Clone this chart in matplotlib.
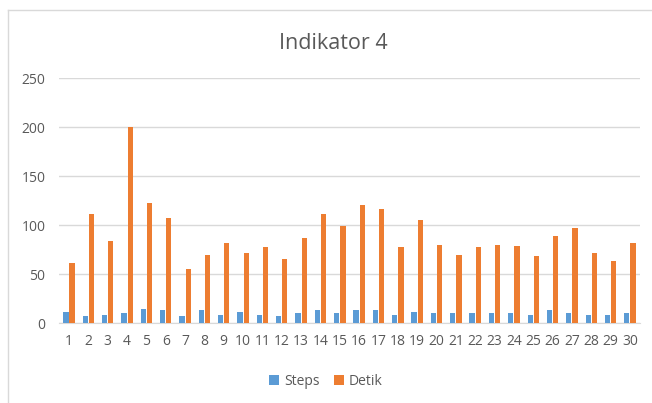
import numpy as np
import matplotlib.pyplot as plt
from matplotlib.lines import Line2D

plt.rcParams['font.family'] = ['Open Sans', 'DejaVu Sans']

categories = [str(i) for i in range(1, 31)]
steps = [11, 7, 8, 10, 14, 13, 7, 13, 8, 11, 8, 7, 10, 13, 10,
         13, 13, 8, 11, 10, 10, 10, 10, 10, 8, 13, 10, 8, 8, 10]
detik = [61, 111, 84, 200, 123, 107, 55, 69, 82, 71, 78, 65, 87, 111, 99,
         120, 116, 78, 105, 80, 69, 78, 80, 79, 68, 89, 97, 71, 63, 82]

fig = plt.figure(figsize=(6.52, 4.03), dpi=100)
ax = fig.add_axes([0.091, 0.1985, 0.890, 0.6075])

x = np.arange(len(categories))
w = 0.27
ax.bar(x - 0.16, steps, w, color='#5b9bd5', label='Steps', zorder=3)
ax.bar(x + 0.16, detik, w, color='#ed7d31', label='Detik', zorder=3)

ax.set_xlim(-0.5, len(categories) - 0.5)
ax.set_ylim(0, 250)
ax.set_yticks([0, 50, 100, 150, 200, 250])
ax.set_xticks(x)
ax.set_xticklabels(categories)
ax.yaxis.grid(True, color='#d9d9d9', linewidth=1, zorder=0)
for s in ['top', 'right', 'left']:
    ax.spines[s].set_visible(False)
ax.spines['bottom'].set_color('#d9d9d9')
ax.tick_params(axis='both', length=0, colors='#595959', labelsize=10)
ax.tick_params(axis='y', pad=10)
ax.tick_params(axis='x', pad=8)

fig.text(0.511, 0.893, 'Indikator 4', ha='center', va='center',
         fontsize=15.5, color='#595959')

leg = fig.legend(loc='center', bbox_to_anchor=(0.5, 0.053), ncol=2, frameon=False,
                 fontsize=10, handlelength=0.7, handleheight=0.7,
                 columnspacing=1.0, handletextpad=0.4)
for t in leg.get_texts():
    t.set_color('#595959')

# chart border, only top and left edges are in the frame
fig.lines.append(Line2D([8 / 652, 1], [1 - 10 / 403, 1 - 10 / 403],
                        transform=fig.transFigure, color='#d9d9d9', linewidth=1))
fig.lines.append(Line2D([8 / 652, 8 / 652], [0, 1 - 10 / 403],
                        transform=fig.transFigure, color='#d9d9d9', linewidth=1))

fig.savefig('out.png', dpi=100)
